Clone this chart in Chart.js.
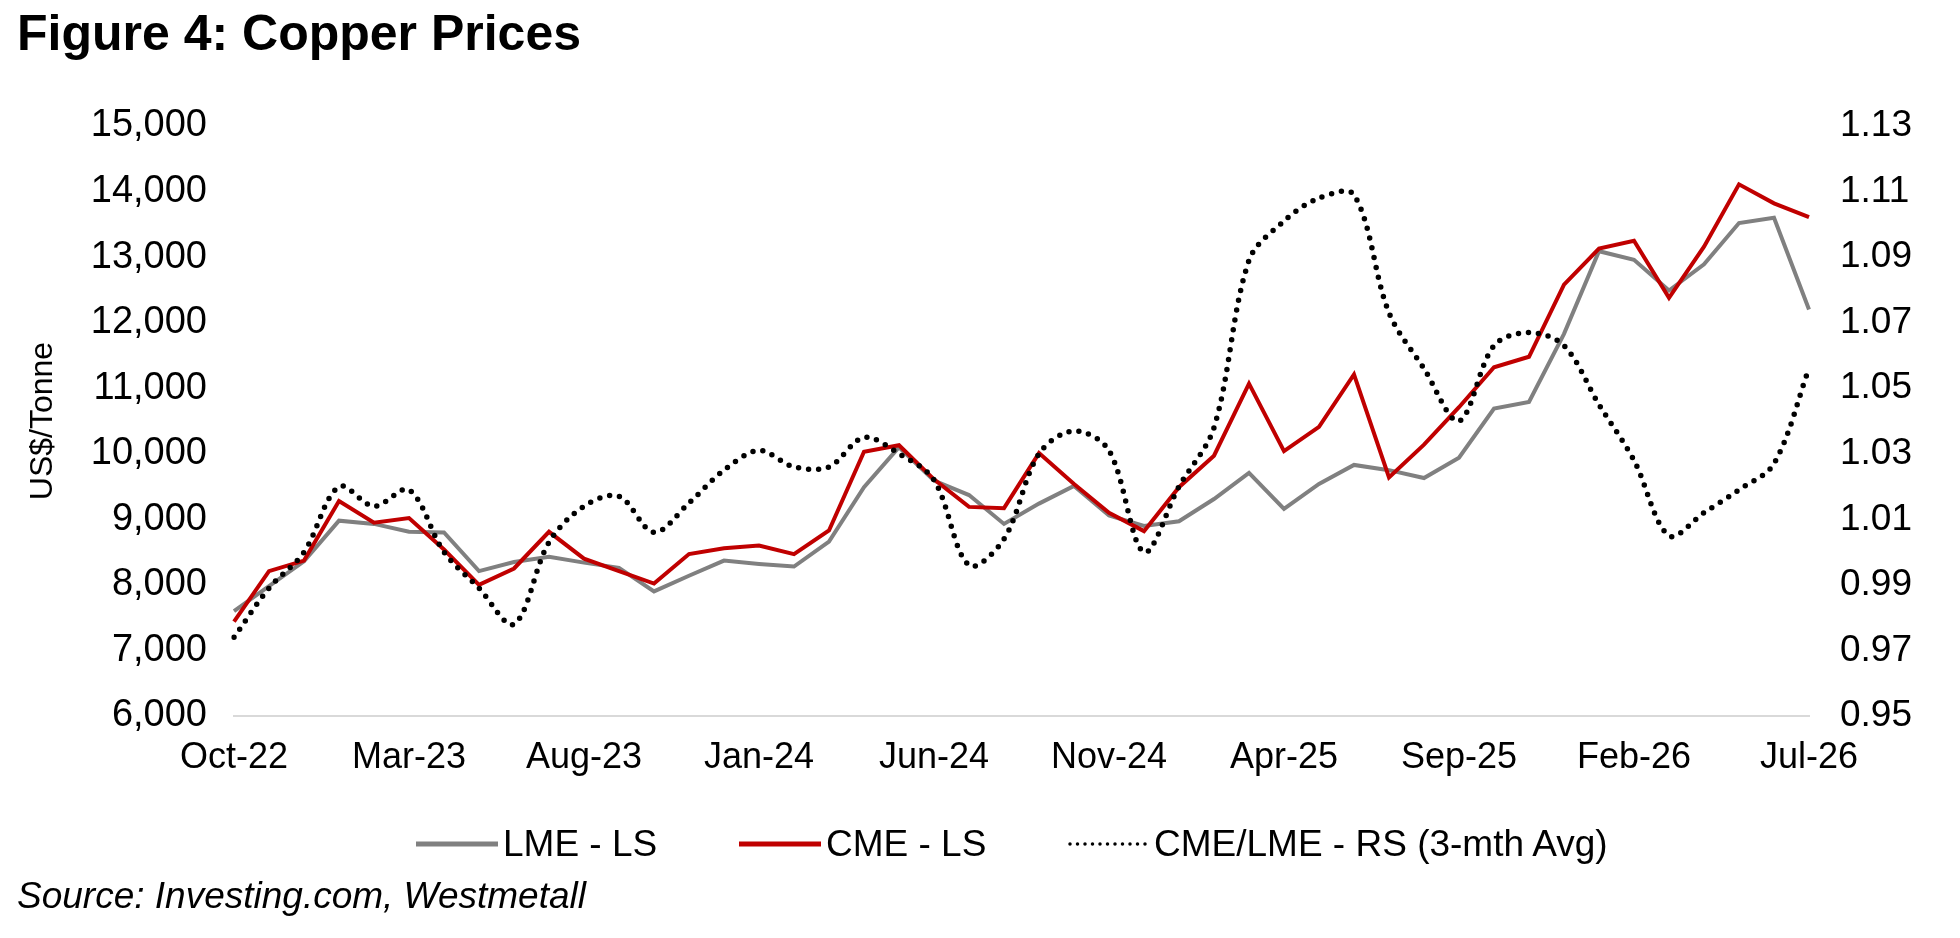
<!DOCTYPE html>
<html>
<head>
<meta charset="utf-8">
<script src="https://cdn.jsdelivr.net/npm/chart.js@4.4.1/dist/chart.umd.min.js"></script>
<style>
  html, body { margin: 0; padding: 0; background: #fff; }
  body { width: 1960px; height: 938px; position: relative; overflow: hidden; font-family: "Liberation Sans", Arial, sans-serif; color: #000; }
  #title { position: absolute; left: 17px; top: 8px; font-size: 50px; line-height: 50px; font-weight: bold; white-space: nowrap; }
  #chartBox { position: absolute; left: 0; top: 0; width: 1960px; height: 938px; }
  #legend { position: absolute; left: 0; top: 825px; width: 1960px; height: 37px; }
  .item { position: absolute; top: 0; height: 37px; display: flex; align-items: center; font-size: 37px; line-height: 37px; white-space: nowrap; }
  .item svg { margin-right: 5px; }
  #source { position: absolute; left: 17px; top: 877px; font-size: 37px; line-height: 38px; font-style: italic; white-space: nowrap; }
</style>
</head>
<body>
<div id="title">Figure 4: Copper Prices</div>
<div id="chartBox"><canvas id="copperChart" width="1960" height="938"></canvas></div>
<div id="legend"></div>
<div id="source">Source: Investing.com, Westmetall</div>

<script>
const months = ['Oct-22', 'Nov-22', 'Dec-22',
    'Jan-23', 'Feb-23', 'Mar-23', 'Apr-23', 'May-23', 'Jun-23', 'Jul-23', 'Aug-23', 'Sep-23', 'Oct-23', 'Nov-23', 'Dec-23',
    'Jan-24', 'Feb-24', 'Mar-24', 'Apr-24', 'May-24', 'Jun-24', 'Jul-24', 'Aug-24', 'Sep-24', 'Oct-24', 'Nov-24', 'Dec-24',
    'Jan-25', 'Feb-25', 'Mar-25', 'Apr-25', 'May-25', 'Jun-25', 'Jul-25', 'Aug-25', 'Sep-25', 'Oct-25', 'Nov-25', 'Dec-25',
    'Jan-26', 'Feb-26', 'Mar-26', 'Apr-26', 'May-26', 'Jun-26', 'Jul-26'];

// US$/tonne, left scale
const lme = [7600, 7980, 8360, 8980, 8930, 8810, 8800, 8210, 8350, 8430, 8340, 8260,
    7900, 8140, 8370, 8320, 8280, 8660, 9490, 10100, 9590, 9370, 8930, 9240,
    9510, 9060, 8900, 8970, 9310, 9710, 9160, 9540, 9830, 9750, 9630, 9940,
    10690, 10790, 11830, 13090, 12960, 12490, 12890, 13520, 13600, 12200];
const cme = [7440, 8210, 8370, 9280, 8950, 9020, 8540, 8000, 8250, 8810, 8400, 8210,
    8020, 8470, 8560, 8600, 8470, 8830, 10030, 10130, 9610, 9190, 9170, 10010,
    9540, 9100, 8820, 9490, 9970, 11070, 10040, 10410, 11210, 9640, 10140, 10710,
    11320, 11480, 12580, 13130, 13250, 12380, 13160, 14110, 13820, 13610];

// CME/LME ratio, 3-month average, right scale
const ratio = [0.974, 0.989, 1.000, 1.020, 1.014, 1.019, 1.000, 0.989, 0.978, 1.003, 1.014, 1.017,
    1.006, 1.015, 1.025, 1.031, 1.026, 1.026, 1.035, 1.030, 1.022, 0.996, 1.004, 1.030,
    1.037, 1.031, 1.000, 1.020, 1.038, 1.089, 1.101, 1.108, 1.109, 1.073, 1.056, 1.040,
    1.063, 1.067, 1.063, 1.045, 1.028, 1.005, 1.012, 1.019, 1.027, 1.056];

const leftTicks = [6000, 7000, 8000, 9000, 10000, 11000, 12000, 13000, 14000, 15000];
const rightTicks = [0.95, 0.97, 0.99, 1.01, 1.03, 1.05, 1.07, 1.09, 1.11, 1.13];

const fontFamily = '"Liberation Sans", Arial, sans-serif';
const legendX = [416, 739, 1067];

const datasets = [
    {
        label: 'LME - LS',
        data: lme,
        yAxisID: 'y',
        borderColor: '#808080',
        borderWidth: 4,
        pointRadius: 0,
        tension: 0,
        order: 3
    },
    {
        label: 'CME - LS',
        data: cme,
        yAxisID: 'y',
        borderColor: '#c00000',
        borderWidth: 4,
        pointRadius: 0,
        tension: 0,
        order: 2
    },
    {
        label: 'CME/LME - RS (3-mth Avg)',
        data: ratio,
        yAxisID: 'y1',
        borderColor: '#000000',
        borderWidth: 5.5,
        borderDash: [0, 10],
        borderCapStyle: 'round',
        pointRadius: 0,
        tension: 0.33,
        order: 1
    }
];

const ctx = document.getElementById('copperChart');
const chart = new Chart(ctx, {
    type: 'line',
    data: {
        labels: months,
        datasets: datasets
    },
    options: {
        responsive: false,
        animation: false,
        devicePixelRatio: 1,
        layout: {
            padding: { top: 126, left: 0, right: 0, bottom: 0 }
        },
        plugins: {
            legend: { display: false },
            title: { display: false },
            tooltip: { enabled: false }
        },
        scales: {
            x: {
                grid: { display: false, drawTicks: false },
                border: { display: true, color: '#d9d9d9', width: 2 },
                ticks: {
                    autoSkip: false,
                    maxRotation: 0,
                    padding: 20,
                    color: '#000',
                    font: { family: fontFamily, size: 36 },
                    callback: function(value, index) {
                        return index % 5 === 0 ? months[index] : '';
                    }
                },
                afterFit: function(scale) { scale.height = 222; }
            },
            y: {
                position: 'left',
                min: 6000,
                max: 15000,
                grid: { display: false, drawTicks: false },
                border: { display: false },
                ticks: {
                    padding: 27,
                    color: '#000',
                    font: { family: fontFamily, size: 38 },
                    callback: function(value) { return value.toLocaleString('en-US'); }
                },
                afterBuildTicks: function(scale) {
                    scale.ticks = leftTicks.map(v => ({ value: v }));
                },
                title: {
                    display: true,
                    text: 'US$/Tonne',
                    color: '#000',
                    font: { family: fontFamily, size: 32 },
                    padding: { top: 24, bottom: 0 }
                },
                afterFit: function(scale) { scale.width = 234; }
            },
            y1: {
                position: 'right',
                min: 0.95,
                max: 1.13,
                grid: { display: false, drawTicks: false },
                border: { display: false },
                ticks: {
                    padding: 31,
                    color: '#000',
                    font: { family: fontFamily, size: 37 },
                    callback: function(value) { return value.toFixed(2); }
                },
                afterBuildTicks: function(scale) {
                    scale.ticks = rightTicks.map(v => ({ value: v }));
                },
                afterFit: function(scale) { scale.width = 151; }
            }
        }
    }
});

// html legend built from the datasets
const legendBox = document.getElementById('legend');
chart.data.datasets.forEach(function(ds, i) {
    const item = document.createElement('div');
    item.className = 'item';
    item.style.left = legendX[i] + 'px';
    const dash = ds.borderDash ? 'stroke-dasharray="0 7.5" stroke-linecap="round"' : '';
    const w = ds.borderDash ? 3.5 : 5;
    item.innerHTML = '<svg width="82" height="10"><line x1="' + (ds.borderDash ? 3 : 0) + '" y1="5" x2="82" y2="5" stroke="' +
        ds.borderColor + '" stroke-width="' + w + '" ' + dash + '/></svg><span>' + ds.label + '</span>';
    legendBox.appendChild(item);
});
</script>
</body>
</html>
